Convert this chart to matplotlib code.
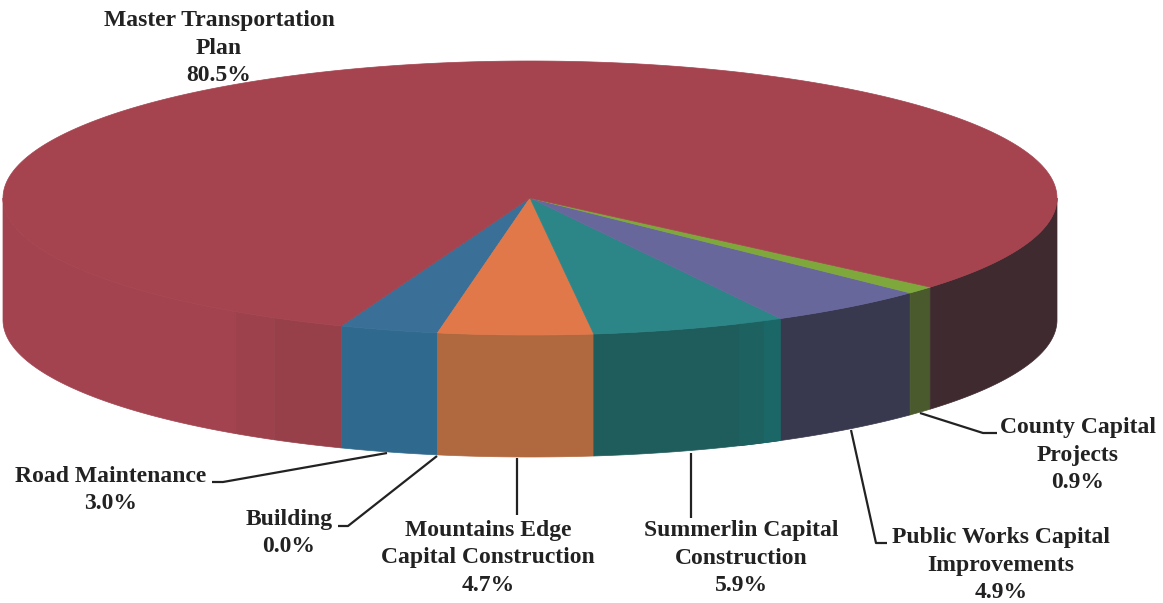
import matplotlib

matplotlib.use("Agg")

import matplotlib.pyplot as plt
import numpy as np

labels = [
    "Road Maintenance\n3.0%",
    "Building\n0.0%",
    "Mountains Edge\nCapital Construction\n4.7%",
    "Summerlin Capital\nConstruction\n5.9%",
    "Public Works Capital\nImprovements\n4.9%",
    "County Capital\nProjects\n0.9%",
    "Master Transportation\nPlan\n80.5%",
]
shares = [3.0, 0.0, 4.7, 5.9, 4.9, 0.9, 80.5]
top_colors = ["#3a7097", "#c9c9b0", "#e0784a", "#2c8587", "#68679b", "#7fa83c", "#a5434f"]
side_colors = ["#2f6a8e", "#c9c9b0", "#b0683f", "#1f5c5c", "#38384f", "#4a5a2c", "#3f2a30"]

# pie geometry in image pixels
CX, CY = 530, 198
RX, RY = 527, 137
DEPTH = 122
START = -111.0
DEG_PER_PCT = 3.63  # the drawing is slightly wider than a true 3.6 in front


def rim(angles):
    rad = np.radians(angles)
    return CX + RX * np.cos(rad), CY - RY * np.sin(rad)


def draw_side(a0, a1, color):
    # only the front half of the rim is visible
    a0, a1 = max(a0, -180), min(a1, 0)
    if a1 <= a0:
        return
    x, y = rim(np.linspace(a0, a1, 80))
    ax.fill(np.r_[x, x[::-1]], np.r_[y, (y + DEPTH)[::-1]], fc=color, ec=color, lw=0.5)


fig = plt.figure(figsize=(11.63, 6.03), dpi=100)
ax = fig.add_axes([0, 0, 1, 1])
ax.set_xlim(0, 1163)
ax.set_ylim(603, 0)
ax.axis("off")

edges = START + np.cumsum([0] + shares) * DEG_PER_PCT
edges[-1] = START + 360

for i in range(len(shares)):
    a0, a1 = edges[i], edges[i + 1]
    if i == len(shares) - 1:
        # big slice wraps round: right part is dark, left part is lit
        draw_side(a0, 0, side_colors[i])
        draw_side(-180, -124, "#a2434f")
        draw_side(-124, -119, "#9d414c")
        draw_side(-119, START, "#974049")
    else:
        draw_side(a0, a1, side_colors[i])

# teal side catches some light near its right end
draw_side(edges[4] - 5, edges[4] - 2, "#1d6161")
draw_side(edges[4] - 2, edges[4], "#1b6767")

for i in range(len(shares)):
    a0, a1 = edges[i], edges[i + 1]
    if shares[i] == 0:
        continue
    x, y = rim(np.linspace(a0, a1, 300))
    ax.fill(np.r_[CX, x], np.r_[CY, y], fc=top_colors[i], ec=top_colors[i], lw=0.5)

font = dict(family="Liberation Serif", fontweight="bold", fontsize=17, color="#222222",
            ha="center", va="center", linespacing=1.38)

text_pos = [(111, 490), (289, 533), (488, 558), (741, 558), (1001, 565), (1078, 455), (219, 48)]
for (tx, ty), label in zip(text_pos, labels):
    ax.text(tx, ty, label, **font)

leaders = [
    ([212, 223, 387], [482, 482, 453]),
    ([338, 348, 437], [526, 526, 456]),
    ([517, 517], [458, 515]),
    ([691, 691], [453, 518]),
    ([887, 876, 851], [543, 543, 430]),
    ([997, 983, 920], [433, 433, 413]),
]
for lx, ly in leaders:
    ax.plot(lx, ly, color="#222222", lw=1.6, solid_capstyle="butt")

fig.savefig("out.png", dpi=100)
plt.close(fig)
